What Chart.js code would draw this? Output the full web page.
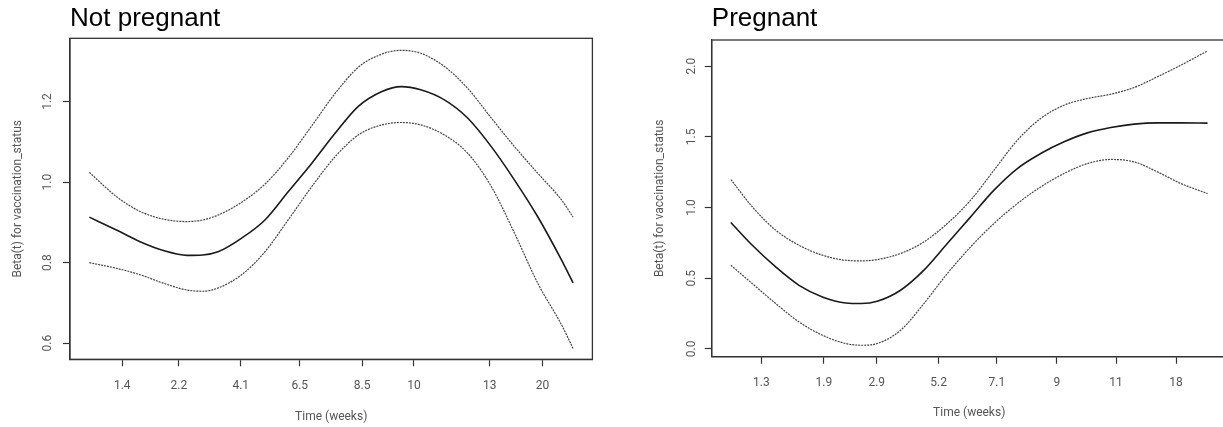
<!DOCTYPE html>
<html>
<head>
<meta charset="utf-8">
<script src="https://cdn.jsdelivr.net/npm/chart.js@4"></script>
<style>
  html, body { margin: 0; padding: 0; background: #fff; overflow: hidden; width: 1223px; height: 427px; }
  canvas { position: absolute; top: 0; }
  #npChart { left: 0; }
  #pChart { left: 612px; }
</style>
</head>
<body>
<canvas id="npChart" width="611" height="427"></canvas>
<canvas id="pChart" width="620" height="427"></canvas>
<script>
// Not pregnant: x is position along the transformed time axis (0 = first event, 1 = last)
const npX = [0, 0.056, 0.105, 0.153, 0.202, 0.234, 0.266, 0.315, 0.363, 0.411, 0.460, 0.508, 0.556, 0.605, 0.645, 0.685, 0.734, 0.782, 0.831, 0.879, 0.927, 0.976, 1];
const npBeta = [0.913, 0.881, 0.852, 0.830, 0.818, 0.819, 0.827, 0.861, 0.906, 0.976, 1.047, 1.121, 1.188, 1.225, 1.237, 1.229, 1.204, 1.159, 1.088, 1.005, 0.914, 0.807, 0.750];
const npUpper = [1.024, 0.964, 0.927, 0.908, 0.902, 0.906, 0.918, 0.950, 0.995, 1.060, 1.140, 1.220, 1.285, 1.318, 1.327, 1.320, 1.287, 1.233, 1.159, 1.088, 1.022, 0.956, 0.913];
const npLower = [0.800, 0.786, 0.770, 0.749, 0.732, 0.729, 0.737, 0.770, 0.827, 0.906, 0.989, 1.063, 1.117, 1.142, 1.148, 1.142, 1.117, 1.072, 0.989, 0.873, 0.749, 0.646, 0.587];
const npTickPos = [0.068, 0.185, 0.313, 0.435, 0.564, 0.671, 0.828, 0.937];
const npTickLabels = ["1.4", "2.2", "4.1", "6.5", "8.5", "10", "13", "20"];
const npYTicks = [0.6, 0.8, 1.0, 1.2];

// Pregnant
const pX = [0, 0.045, 0.094, 0.143, 0.192, 0.241, 0.274, 0.307, 0.356, 0.405, 0.454, 0.503, 0.552, 0.601, 0.650, 0.699, 0.748, 0.797, 0.846, 0.895, 0.944, 1];
const pBeta = [0.894, 0.733, 0.580, 0.450, 0.368, 0.325, 0.321, 0.337, 0.415, 0.557, 0.745, 0.934, 1.123, 1.276, 1.382, 1.465, 1.528, 1.566, 1.590, 1.599, 1.599, 1.597];
const pUpper = [1.198, 1.005, 0.840, 0.733, 0.663, 0.627, 0.623, 0.632, 0.675, 0.757, 0.887, 1.052, 1.264, 1.476, 1.630, 1.724, 1.771, 1.802, 1.849, 1.925, 2.007, 2.108];
const pLower = [0.592, 0.462, 0.321, 0.191, 0.097, 0.038, 0.026, 0.038, 0.132, 0.321, 0.533, 0.722, 0.887, 1.028, 1.146, 1.241, 1.311, 1.340, 1.323, 1.252, 1.170, 1.099];
const pTickPos = [0.064, 0.195, 0.306, 0.436, 0.558, 0.684, 0.808, 0.934];
const pTickLabels = ["1.3", "1.9", "2.9", "5.2", "7.1", "9", "11", "18"];
const pYTicks = [0.0, 0.5, 1.0, 1.5, 2.0];

const textGray = "#555";
const axisColor = "#333";

// R style box around the plot region
const boxPlugin = {
    id: "box",
    afterDraw(chart) {
        const { ctx, chartArea: a } = chart;
        ctx.save();
        ctx.strokeStyle = axisColor;
        ctx.lineWidth = 1.3;
        ctx.strokeRect(a.left, a.top, a.right - a.left, a.bottom - a.top);
        ctx.restore();
    }
};

function toPoints(xs, ys) {
    return xs.map((x, i) => ({ x: x, y: ys[i] }));
}

function makePanel(id, cfg) {
    const ctx = document.getElementById(id).getContext("2d");
    return new Chart(ctx, {
        type: "line",
        data: {
            datasets: [
                {
                    label: "upper",
                    data: toPoints(cfg.x, cfg.upper),
                    borderColor: "#444",
                    borderWidth: 1.2,
                    borderDash: [2, 1],
                    pointRadius: 0,
                    cubicInterpolationMode: "monotone"
                },
                {
                    label: "beta",
                    data: toPoints(cfg.x, cfg.beta),
                    borderColor: "#1a1a1a",
                    borderWidth: 1.6,
                    pointRadius: 0,
                    cubicInterpolationMode: "monotone"
                },
                {
                    label: "lower",
                    data: toPoints(cfg.x, cfg.lower),
                    borderColor: "#444",
                    borderWidth: 1.2,
                    borderDash: [2, 1],
                    pointRadius: 0,
                    cubicInterpolationMode: "monotone"
                }
            ]
        },
        options: {
            responsive: false,
            animation: false,
            layout: { padding: { left: 0, right: cfg.padRight, top: 0, bottom: 0 } },
            plugins: {
                legend: { display: false },
                tooltip: { enabled: false },
                title: {
                    display: true,
                    text: cfg.title,
                    align: "start",
                    fullSize: false,
                    color: "#000",
                    font: { family: "'Liberation Sans', Arial, sans-serif", size: 26, weight: "normal", lineHeight: 1.1 },
                    padding: { top: 5, bottom: cfg.titleBottom }
                }
            },
            scales: {
                x: {
                    type: "linear",
                    min: -0.04,
                    max: 1.04,
                    afterBuildTicks: (scale) => {
                        scale.ticks = cfg.tickPos.map(v => ({ value: v }));
                    },
                    afterFit: (scale) => { scale.height = cfg.xHeight; },
                    grid: { drawOnChartArea: false, drawTicks: true, tickLength: 7, color: axisColor, tickWidth: 1.2 },
                    border: { display: true, color: axisColor, width: 1.2 },
                    ticks: {
                        autoSkip: false,
                        maxRotation: 0,
                        padding: 12,
                        color: textGray,
                        font: { family: "Roboto", size: 12 },
                        callback: (v, i) => cfg.tickLabels[i]
                    },
                    title: {
                        display: true,
                        text: "Time (weeks)",
                        color: textGray,
                        font: { family: "Roboto", size: 12 },
                        padding: { top: 0, bottom: cfg.xTitleBottom }
                    }
                },
                y: {
                    type: "linear",
                    min: cfg.yMin,
                    max: cfg.yMax,
                    afterBuildTicks: (scale) => {
                        scale.ticks = cfg.yTicks.map(v => ({ value: v }));
                    },
                    afterFit: (scale) => { scale.width = cfg.yWidth; },
                    grid: { drawOnChartArea: false, drawTicks: true, tickLength: 7, color: axisColor, tickWidth: 1.2 },
                    border: { display: true, color: axisColor, width: 1.2 },
                    ticks: {
                        minRotation: 90,
                        maxRotation: 90,
                        crossAlign: "center",
                        padding: cfg.yTickPad,
                        color: textGray,
                        font: { family: "Roboto", size: 12 },
                        callback: (v) => v.toFixed(1)
                    },
                    title: {
                        display: true,
                        text: "Beta(t) for vaccination_status",
                        color: textGray,
                        font: { family: "Roboto", size: 12 },
                        padding: { top: cfg.yTitleTop, bottom: 0 }
                    }
                }
            }
        },
        plugins: [boxPlugin]
    });
}

makePanel("npChart", {
    title: "Not pregnant",
    x: npX, beta: npBeta, upper: npUpper, lower: npLower,
    tickPos: npTickPos, tickLabels: npTickLabels, yTicks: npYTicks,
    yMin: 0.56, yMax: 1.357,
    padRight: 18.6, titleBottom: 4.7,
    xHeight: 67.7, xTitleBottom: 3,
    yWidth: 70, yTickPad: 6.5, yTitleTop: 10.8
});

makePanel("pChart", {
    title: "Pregnant",
    x: pX, beta: pBeta, upper: pUpper, lower: pLower,
    tickPos: pTickPos, tickLabels: pTickLabels, yTicks: pYTicks,
    yMin: -0.055, yMax: 2.185,
    padRight: 5.4, titleBottom: 6.4,
    xHeight: 70.3, xTitleBottom: 6.8,
    yWidth: 99.8, yTickPad: 4.5, yTitleTop: 40.8
});
</script>
</body>
</html>
